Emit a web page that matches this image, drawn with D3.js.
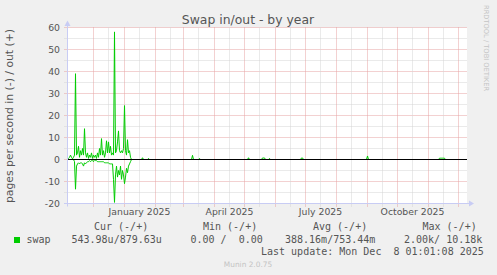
<!DOCTYPE html>
<html>
<head>
<meta charset="utf-8">
<script src="https://cdn.jsdelivr.net/npm/d3@7"></script>
<style>
  body { margin: 0; background: #f0f0f0; }
  svg { display: block; }
  text { font-family: "DejaVu Sans", sans-serif; fill: #555; }
  .mono { font-family: "DejaVu Sans Mono", monospace; font-size: 10px; fill: #555; }
</style>
</head>
<body>
<div id="svgContainer"></div>
<script>
var firstDay = "2024-11-05";
var lastDay = "2025-12-08";
// daily values for the busy weeks at the start
var swapOut = [0, 0.5, 1, 2, 1, 0.3, 1, 2, 39, 2, 3, 6, 1, 4, 2, 5, 2, 14, 3, 1,
  3, 0.5, 2, 1, 3, 0.5, 2, 1, 2, 0.5, 3, 1, 5, 2, 9.5, 2, 4, 1, 3, 8.5,
  3, 8, 3, 6, 2, 3, 2, 58, 3, 4, 8, 13, 4, 3, 4, 3, 5, 24.5, 4, 2,
  9, 3, 4, 1, 0];
var swapIn = [0, 0, 0, 0, 0, 0, 0, 1, 13.5, 3, 2, 1.5, 2, 1.5, 1.5, 2, 3, 1.5, 2, 1.5,
  1, 1, 0.5, 1, 0.5, 0.5, 1, 0, 0.5, 0.5, 1, 1, 1, 1, 1, 1, 1, 1.5, 1.5, 1.5,
  1.5, 1.5, 2, 2, 2, 2, 9, 19.5, 7, 3, 8, 5, 7, 3, 9, 5, 7, 11, 8, 4,
  6, 3, 2, 1, 0];
// small blips of swap out later in the year
var blipDays = ["2025-01-19", "2025-01-25", "2025-03-10", "2025-03-17", "2025-05-05",
  "2025-05-19", "2025-05-20", "2025-05-21", "2025-05-26", "2025-06-27", "2025-06-28",
  "2025-09-01", "2025-11-12", "2025-11-13", "2025-11-14", "2025-11-15", "2025-11-16", "2025-11-17"];
var blipOut = [0.8, 0.5, 1.9, 0.5, 0.8,
  0.7, 0.7, 0.7, 0.5, 0.7, 0.7,
  1.6, 0.6, 0.6, 0.6, 0.6, 0.6, 0.6];

var yTicks = [-20, -10, 0, 10, 20, 30, 40, 50, 60];
var monthLabels = ["2025-01-01", "2025-04-01", "2025-07-01", "2025-10-01"];
var legendHead = ["Cur (-/+)", "Min (-/+)", "Avg (-/+)", "Max (-/+)"];
var legendVals = ["543.98u/879.63u", "0.00 /  0.00", "388.16m/753.44m", "2.00k/ 10.18k"];

var W = 497, H = 275;
var parse = d3.utcParse("%Y-%m-%d");

var svg = d3.select("#svgContainer").append("svg")
    .attr("width", W)
    .attr("height", H);

svg.append("rect").attr("width", W).attr("height", H).attr("fill", "#f0f0f0");

// 400 days across 400 px
var x = d3.scaleUtc()
    .domain([new Date(Date.UTC(2024, 10, 4, 12)), new Date(Date.UTC(2025, 11, 9, 12))])
    .range([67, 467]);
var y = d3.scaleLinear().domain([-20, 60]).range([203.5, 27.5]);
var px = function(v) { return Math.round(v - 0.5) + 0.5; };

svg.append("rect")
    .attr("x", 67).attr("y", 27.5)
    .attr("width", 400).attr("height", 176)
    .attr("fill", "#fff");

// ****************** grid ***************************
var minorY = d3.range(-20, 61, 5).filter(function(v) { return v % 10 != 0; });
svg.selectAll("line.hminor").data(minorY).enter().append("line")
    .attr("x1", 64.5).attr("x2", 467)
    .attr("y1", y).attr("y2", y)
    .attr("stroke", "#d4d4d4").attr("stroke-dasharray", "1,1");
svg.selectAll("line.hmajor").data(yTicks).enter().append("line")
    .attr("x1", 64.5).attr("x2", 467)
    .attr("y1", y).attr("y2", y)
    .attr("stroke", "#e6a3a3").attr("stroke-dasharray", "1,1");

var months = d3.utcMonth.range(x.domain()[0], x.domain()[1]);
var halfMonths = months.map(function(m) { return d3.utcDay.offset(m, 15); })
    .filter(function(d) { return d < x.domain()[1]; });
svg.selectAll("line.vminor").data(halfMonths).enter().append("line")
    .attr("x1", function(d) { return px(x(d)); }).attr("x2", function(d) { return px(x(d)); })
    .attr("y1", 27.5).attr("y2", 206.5)
    .attr("stroke", "#d4d4d4").attr("stroke-dasharray", "1,1");
svg.selectAll("line.vmajor").data(months).enter().append("line")
    .attr("x1", function(d) { return px(x(d)); }).attr("x2", function(d) { return px(x(d)); })
    .attr("y1", 27.5).attr("y2", 206.5)
    .attr("stroke", "#e6a3a3").attr("stroke-dasharray", "1,1");

// ****************** series ***************************
var start = parse(firstDay);
var days = d3.utcDay.range(start, d3.utcDay.offset(parse(lastDay), 1));
var blips = new Map(blipDays.map(function(d, i) { return [d, blipOut[i]]; }));
var fmt = d3.utcFormat("%Y-%m-%d");
var outData = days.map(function(d, i) {
  var v = i < swapOut.length ? swapOut[i] : (blips.get(fmt(d)) || 0);
  return {date: d, v: v};
});
var inData = days.map(function(d, i) {
  return {date: d, v: i < swapIn.length ? -swapIn[i] : 0};
});

var line = d3.line()
    .x(function(d) { return x(d.date); })
    .y(function(d) { return y(d.v); });

svg.append("path").datum(inData)
    .attr("d", line).attr("fill", "none")
    .attr("stroke", "#00cc00").attr("stroke-width", 1);
svg.append("path").datum(outData)
    .attr("d", line).attr("fill", "none")
    .attr("stroke", "#00cc00").attr("stroke-width", 1);

// zero rule
svg.append("line")
    .attr("x1", 67).attr("x2", 467)
    .attr("y1", y(0)).attr("y2", y(0))
    .attr("stroke", "#000");

// ****************** axes ***************************
svg.append("line")
    .attr("x1", 64).attr("x2", 470)
    .attr("y1", 203.5).attr("y2", 203.5)
    .attr("stroke", "#c8ccf4");
svg.append("path")
    .attr("d", "M469,200.5 L474,203.5 L469,206.5 Z")
    .attr("fill", "#c8ccf4");
svg.append("line")
    .attr("x1", 67.5).attr("x2", 67.5)
    .attr("y1", 206.5).attr("y2", 24)
    .attr("stroke", "#c8ccf4");
svg.append("path")
    .attr("d", "M64.5,26 L67.5,20.5 L70.5,26 Z")
    .attr("fill", "#c8ccf4");

svg.selectAll("text.ytick").data(yTicks).enter().append("text")
    .attr("x", 60).attr("y", function(d) { return y(d) + 3.4; })
    .attr("text-anchor", "end")
    .style("font-size", "9.3px")
    .text(function(d) { return d; });

var monthFmt = d3.utcFormat("%B %Y");
svg.selectAll("text.xtick").data(monthLabels).enter().append("text")
    .attr("x", function(d) { return x(d3.utcDay.offset(parse(d), 15)); })
    .attr("y", 214.5)
    .attr("text-anchor", "middle")
    .style("font-size", "9.3px")
    .text(function(d) { return monthFmt(parse(d)); });

// titles
svg.append("text")
    .attr("x", 248).attr("y", 23.5)
    .attr("text-anchor", "middle")
    .style("font-size", "12.4px")
    .text("Swap in/out - by year");

svg.append("text")
    .attr("transform", "translate(13,116) rotate(-90)")
    .attr("text-anchor", "middle")
    .style("font-size", "10.8px")
    .text("pages per second in (-) / out (+)");

svg.append("text")
    .attr("transform", "translate(484,5) rotate(90)")
    .attr("text-anchor", "start")
    .style("font-size", "6.7px")
    .style("fill", "#c4c4c4")
    .text("RRDTOOL / TOBI OETIKER");

// ****************** legend ***************************
var headX = [94, 203, 313, 422.5];
var valX = [71.5, 190.5, 285, 404];
svg.selectAll("text.lhead").data(legendHead).enter().append("text")
    .attr("class", "mono")
    .attr("xml:space", "preserve")
    .attr("x", function(d, i) { return headX[i]; })
    .attr("y", 230)
    .text(function(d) { return d; });

svg.append("rect")
    .attr("x", 14).attr("y", 237)
    .attr("width", 6).attr("height", 6)
    .attr("fill", "#00cc00");
svg.append("text").attr("class", "mono")
    .attr("x", 26.5).attr("y", 242.7)
    .text("swap");
svg.selectAll("text.lval").data(legendVals).enter().append("text")
    .attr("class", "mono")
    .attr("xml:space", "preserve")
    .attr("x", function(d, i) { return valX[i]; })
    .attr("y", 242.7)
    .text(function(d) { return d; });

svg.append("text").attr("class", "mono")
    .attr("xml:space", "preserve")
    .attr("x", 261).attr("y", 255)
    .text("Last update: Mon Dec  8 01:01:08 2025");

svg.append("text")
    .attr("x", 248).attr("y", 266.7)
    .attr("text-anchor", "middle")
    .style("font-size", "7.4px")
    .style("fill", "#c4c4c4")
    .text("Munin 2.0.75");
</script>
</body>
</html>
